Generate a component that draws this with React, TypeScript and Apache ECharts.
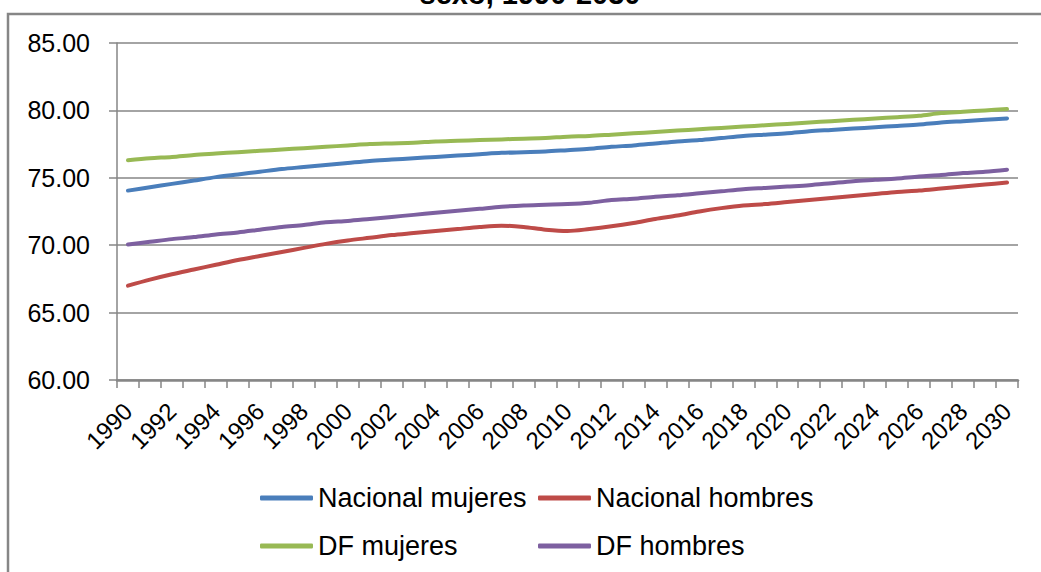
import React, { useEffect, useRef } from "react";
import * as echarts from "echarts";

const years: string[] = [];
for (let y = 1990; y <= 2030; y++) years.push(String(y));

const nacionalMujeres = [
  74.05, 74.3, 74.55, 74.8, 75.05, 75.25, 75.45, 75.65, 75.8, 75.95,
  76.1, 76.25, 76.35, 76.45, 76.55, 76.65, 76.75, 76.85, 76.9, 76.95,
  77.05, 77.15, 77.3, 77.4, 77.55, 77.7, 77.8, 77.95, 78.1, 78.2,
  78.3, 78.45, 78.55, 78.65, 78.75, 78.85, 78.95, 79.1, 79.2, 79.3, 79.4,
];
const nacionalHombres = [
  67.0, 67.45, 67.85, 68.2, 68.55, 68.9, 69.2, 69.5, 69.8, 70.1,
  70.35, 70.55, 70.75, 70.9, 71.05, 71.2, 71.35, 71.45, 71.35, 71.15,
  71.05, 71.2, 71.4, 71.65, 71.95, 72.2, 72.5, 72.75, 72.95, 73.05,
  73.2, 73.35, 73.5, 73.65, 73.8, 73.95, 74.05, 74.2, 74.35, 74.5, 74.65,
];
const dfMujeres = [
  76.3, 76.45, 76.55, 76.7, 76.8, 76.9, 77.0, 77.1, 77.2, 77.3,
  77.4, 77.5, 77.55, 77.6, 77.7, 77.75, 77.8, 77.85, 77.9, 77.95,
  78.05, 78.1, 78.2, 78.3, 78.4, 78.5, 78.6, 78.7, 78.8, 78.9,
  79.0, 79.1, 79.2, 79.3, 79.4, 79.5, 79.6, 79.8, 79.9, 80.0, 80.1,
];
const dfHombres = [
  70.05, 70.25, 70.45, 70.6, 70.8, 70.95, 71.15, 71.35, 71.5, 71.7,
  71.8, 71.95, 72.1, 72.25, 72.4, 72.55, 72.7, 72.85, 72.95, 73.0,
  73.05, 73.15, 73.35, 73.45, 73.6, 73.7, 73.85, 74.0, 74.15, 74.25,
  74.35, 74.45, 74.6, 74.75, 74.85, 74.95, 75.1, 75.2, 75.35, 75.45, 75.6,
];

const seriesNames = ["Nacional mujeres", "Nacional hombres", "DF mujeres", "DF hombres"];
const seriesColors = ["#4a7ebb", "#be4b48", "#98b954", "#7d60a0"];
const seriesData = [nacionalMujeres, nacionalHombres, dfMujeres, dfHombres];
const titleText = "sexo, 1990-2030";

const FONT = "'Liberation Sans', Arial, sans-serif";
const GRAY = "#868686";

export default function App() {
  const ref = useRef<HTMLDivElement>(null);
  useEffect(() => {
    if (!ref.current) return;
    const chart = echarts.init(ref.current, null, { renderer: "svg" });
    const legendText = { fontSize: 27, color: "#000", fontFamily: FONT, lineHeight: 28 };
    chart.setOption({
      animation: false,
      backgroundColor: "#fff",
      textStyle: { fontFamily: FONT },
      grid: { left: 117, right: 23, top: 43, bottom: 192, containLabel: false },
      graphic: [
        {
          type: "rect",
          shape: { x: 8, y: 14, width: 1200, height: 700 },
          style: { fill: "none", stroke: GRAY, lineWidth: 2.5 },
          silent: true,
        },
        {
          type: "text",
          x: 530,
          y: -21,
          style: {
            text: titleText,
            fontSize: 29,
            fontWeight: "bold",
            fontFamily: FONT,
            fill: "#000",
            align: "center",
            verticalAlign: "top",
          },
        },
      ],
      legend: [
        {
          data: [seriesNames[0], seriesNames[2]],
          orient: "vertical",
          left: 255,
          top: 479,
          itemWidth: 53,
          itemHeight: 5,
          itemGap: 20,
          icon: "roundRect",
          textStyle: legendText,
        },
        {
          data: [seriesNames[1], seriesNames[3]],
          orient: "vertical",
          left: 533,
          top: 479,
          itemWidth: 53,
          itemHeight: 5,
          itemGap: 20,
          icon: "roundRect",
          textStyle: legendText,
        },
      ],
      xAxis: {
        type: "category",
        data: years,
        boundaryGap: true,
        axisLine: { lineStyle: { color: GRAY, width: 2.5 } },
        axisTick: { show: true, interval: 0, length: 8, lineStyle: { color: GRAY, width: 1.5 } },
        axisLabel: {
          interval: 1,
          rotate: 45,
          fontSize: 24,
          color: "#000",
          fontFamily: FONT,
          margin: 27,
        },
        splitLine: { show: false },
      },
      yAxis: {
        type: "value",
        min: 60,
        max: 85,
        interval: 5,
        axisLine: { show: true, lineStyle: { color: GRAY, width: 1.5 } },
        axisTick: { show: true, length: 8, lineStyle: { color: GRAY, width: 1.5 } },
        axisLabel: {
          fontSize: 25,
          color: "#000",
          fontFamily: FONT,
          margin: 27,
          formatter: (v: number) => v.toFixed(2),
        },
        splitLine: { show: true, lineStyle: { color: GRAY, width: 1.5 } },
      },
      series: seriesNames.map((name, i) => ({
        name,
        type: "line",
        data: seriesData[i],
        smooth: 0.3,
        showSymbol: false,
        symbol: "none",
        color: seriesColors[i],
        lineStyle: { width: 4, color: seriesColors[i], cap: "round" },
      })),
    });
    return () => chart.dispose();
  }, []);
  return (
    <div
      ref={ref}
      style={{ position: "absolute", left: 0, top: 0, width: 1041, height: 572 }}
    />
  );
}
